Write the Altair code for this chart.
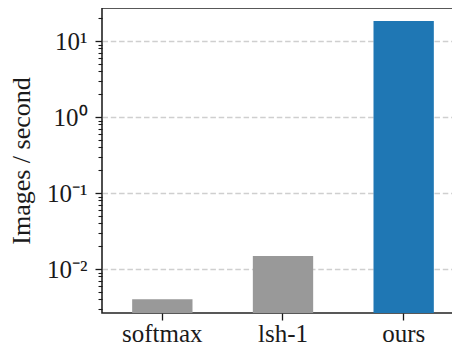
import altair as alt
import pandas as pd

methods = ["softmax", "lsh-1", "ours"]
throughput = [0.0040, 0.0148, 18.3]
bar_colors = ["#999999", "#999999", "#1f77b4"]

y_min, y_max = 0.00264, 27.2
major_ticks = [0.01, 0.1, 1, 10]
minor_ticks = [m * 10.0 ** k for k in range(-3, 2) for m in range(2, 10)]
minor_ticks = [v for v in minor_ticks if y_min <= v <= y_max]

df = pd.DataFrame({"method": methods, "value": throughput})

FONT = "Liberation Serif"
INK = "#1a1a1a"

yscale = alt.Scale(type="log", domain=[y_min, y_max], nice=False)

EXP = "round(log(datum.value)/LN10)"
IS_MAJOR = f"abs(log(datum.value)/LN10 - {EXP}) < 1e-6"
label_expr = (
    f"!({IS_MAJOR}) ? '' : "
    "({'1': '10\u00b9', '0': '10\u2070', '-1': '10\u207b\u00b9', '-2': '10\u207b\u00b2'})"
    f"['' + {EXP}]"
)

chart = alt.Chart(df).mark_bar().encode(
    x=alt.X(
        "method:N",
        sort=methods,
        scale=alt.Scale(paddingInner=0.5, paddingOuter=0.25),
        axis=alt.Axis(
            title=None, labelAngle=0, labelFontSize=25, labelFont=FONT,
            labelColor=INK, tickSize=7, tickColor=INK, tickWidth=1.3,
            labelPadding=1, domain=False,
        ),
    ),
    y=alt.Y(
        "value:Q",
        scale=yscale,
        axis=alt.Axis(
            title="Images / second", titleFont=FONT, titleFontSize=26,
            titleFontWeight="normal", titleColor=INK,
            titleX=-73, titleY=152.5, titleAngle=270,
            titleAlign="center", titleBaseline="alphabetic",
            values=sorted(major_ticks + minor_ticks), labelExpr=label_expr,
            labelFont=FONT, labelFontSize=25, labelColor=INK, labelPadding=8,
            tickSize={"condition": {"test": IS_MAJOR, "value": 7}, "value": 4},
            tickWidth={"condition": {"test": IS_MAJOR, "value": 1.3}, "value": 1.1},
            tickColor=INK, domain=False,
            grid=True, gridColor="#cfcfcf", gridDash=[5.5, 2.8], gridWidth=1.3,
            gridOpacity={"condition": {"test": IS_MAJOR, "value": 1}, "value": 0},
        ),
    ),
    y2=alt.Y2(datum=y_min),
    color=alt.Color(
        "method:N",
        scale=alt.Scale(domain=methods, range=bar_colors),
        legend=None,
    ),
).properties(
    width=362, height=305,
    autosize=alt.AutoSizeParams(type="none"),
    padding={"left": 94, "top": 0, "right": -12, "bottom": 35},
    background="white",
).configure_view(stroke="#222222", strokeWidth=1.6)

chart.save("out.html", embed_options={"renderer": "svg", "actions": False})
